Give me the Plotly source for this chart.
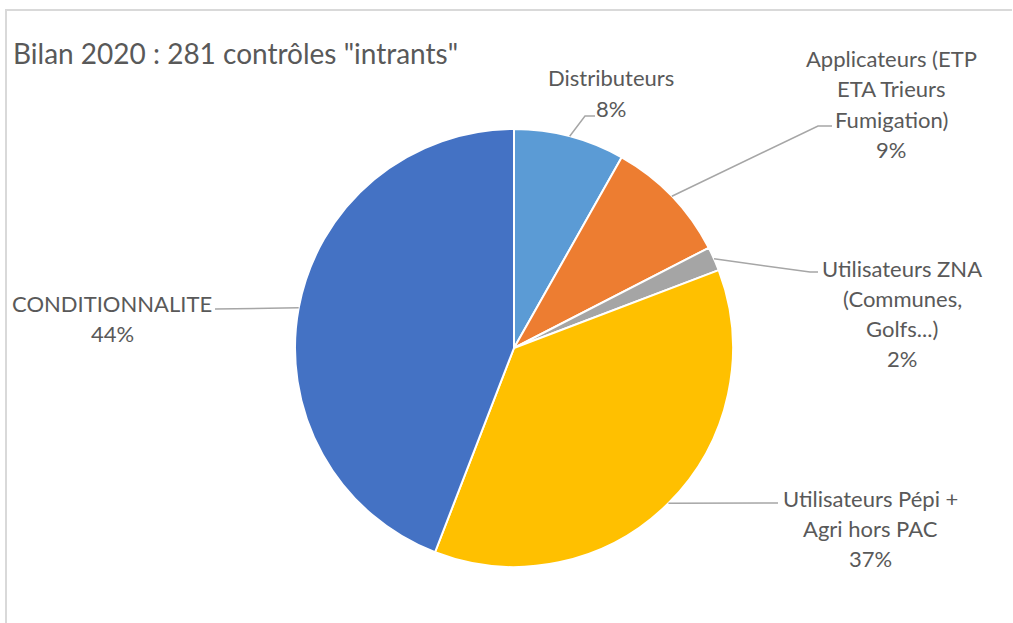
import math
import plotly.graph_objects as go

# ---- data ----
categories = ["Distributeurs", "Applicateurs (ETP ETA Trieurs Fumigation)",
              "Utilisateurs ZNA (Communes, Golfs...)",
              "Utilisateurs Pépi + Agri hors PAC", "CONDITIONNALITE"]
values = [23, 26, 5, 103, 124]
label_lines = [
    ["Distributeurs"],
    ["Applicateurs (ETP", "ETA Trieurs", "Fumigation)"],
    ["Utilisateurs ZNA", "(Communes,", "Golfs...)"],
    ["Utilisateurs Pépi +", "Agri hors PAC"],
    ["CONDITIONNALITE"],
]
colors = ["#5B9BD5", "#ED7D31", "#A5A5A5", "#FFC000", "#4472C4"]
title_text = 'Bilan 2020 : 281 contrôles "intrants"'

# ---- layout (pixels) ----
W, H = 1013, 623
CX, CY, R = 514, 348, 219
# label block: centre x, first-line y (px)
label_pos = [(611, 78), (891, 59), (902, 268), (870, 498), (112, 303)]
# leader line elbow points (px); None -> straight line to end point
leader_elbow = [(585, 116), (818, 126), (810, 272), None, None]
leader_end = [(595, 116), (832, 126), (818, 272), (778, 503), (215, 309)]
LINE_SP = 30.0
TEXT_COL = "#595959"
FONT = "Lato"


def px(x):
    return x / W


def py(y):
    return 1 - y / H


fig = go.Figure(go.Pie(
    labels=categories, values=values, sort=False, direction="clockwise",
    rotation=0, textinfo="none", hoverinfo="label+percent",
    marker=dict(colors=colors, line=dict(color="white", width=2)),
    domain=dict(x=[px(CX - R), px(CX + R)], y=[py(CY + R), py(CY - R)]),
    showlegend=False,
))

total = sum(values)
annotations = []
shapes = []
cum = 0
for i, v in enumerate(values):
    mid = (cum + v / 2) / total * 2 * math.pi
    cum += v
    ex, ey = CX + R * math.sin(mid), CY - R * math.cos(mid)
    pts = [(ex, ey)]
    if leader_elbow[i]:
        pts.append(leader_elbow[i])
    pts.append(leader_end[i])
    path = "M " + " L ".join(f"{px(a)},{py(b)}" for a, b in pts)
    shapes.append(dict(type="path", xref="paper", yref="paper", path=path,
                       line=dict(color="#A6A6A6", width=1.5)))
    pct = f"{round(v / total * 100)}%"
    lines = label_lines[i] + [pct]
    lx, ly = label_pos[i]
    for k, t in enumerate(lines):
        annotations.append(dict(
            x=px(lx), y=py(ly + k * LINE_SP), xref="paper", yref="paper",
            text=t, showarrow=False, xanchor="center", yanchor="middle",
            font=dict(family=FONT, size=22, color=TEXT_COL)))

annotations.append(dict(
    x=px(11), y=py(53), xref="paper", yref="paper", text=title_text,
    showarrow=False, xanchor="left", yanchor="middle",
    font=dict(family=FONT, size=28, color=TEXT_COL)))

# chart frame (top and left edges visible)
shapes.append(dict(type="line", xref="paper", yref="paper",
                   x0=px(5), x1=px(1012), y0=py(10), y1=py(10),
                   line=dict(color="#D9D9D9", width=2)))
shapes.append(dict(type="line", xref="paper", yref="paper",
                   x0=px(6), x1=px(6), y0=py(10), y1=py(623),
                   line=dict(color="#D9D9D9", width=2)))

fig.update_layout(
    width=W, height=H, margin=dict(l=0, r=0, t=0, b=0),
    paper_bgcolor="white", plot_bgcolor="white",
    annotations=annotations, shapes=shapes,
)
fig.write_html(
    "out.html",
    config={"displayModeBar": False},
    post_script="document.body.style.margin='0';document.body.style.overflow='hidden';",
)
